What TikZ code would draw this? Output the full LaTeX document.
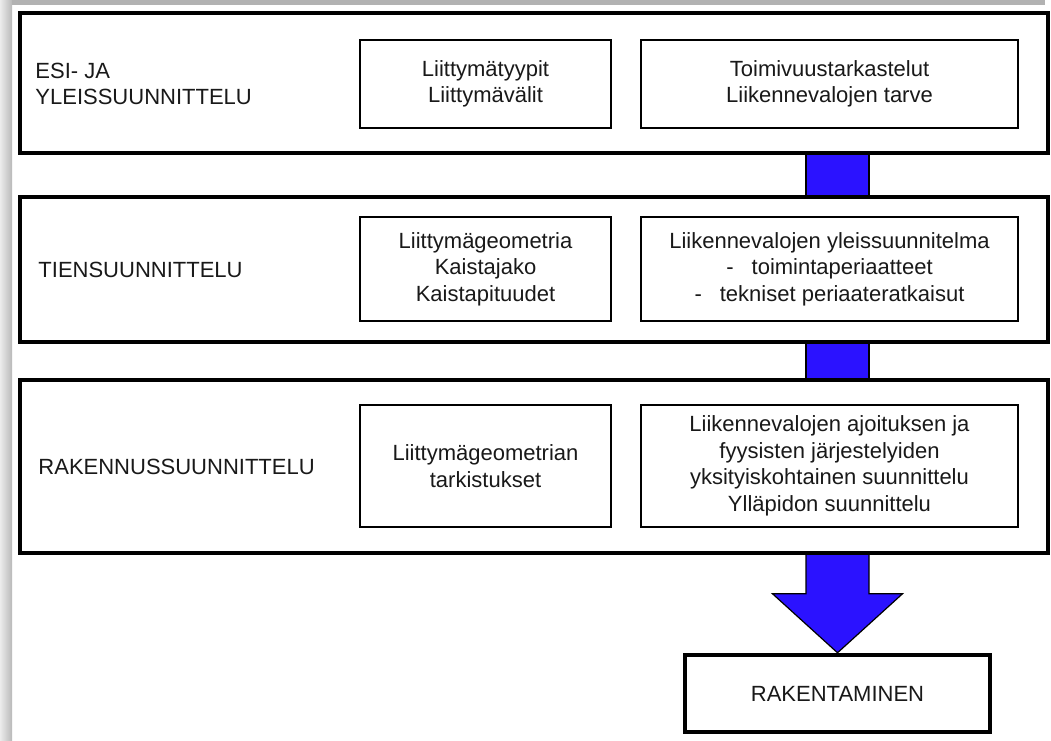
\documentclass[tikz,border=0pt]{standalone}
\usepackage{fontspec}
\setmainfont{Liberation Sans}
\usetikzlibrary{calc,backgrounds}
\definecolor{arrblue}{RGB}{43,18,255}
\definecolor{txtgray}{RGB}{25,25,25}
\newcommand\txtfont{\fontsize{22}{26.5}\selectfont}
\begin{document}
\begin{tikzpicture}[x=1pt,y=-1pt,
  band/.style={draw=black, line width=3.5pt, fill=white, inner sep=0pt, minimum width=1028pt},
  inbox/.style={draw=black, line width=2pt, fill=white, align=center, inner sep=0pt, font=\txtfont, text=txtgray},
  lbl/.style={anchor=west, align=left, font=\txtfont, inner sep=0pt, text=txtgray},
  conn/.style={fill=arrblue, draw=black, line width=1.2pt, line join=miter},
  finalbox/.style={draw=black, line width=4.5pt, fill=white, inner sep=0pt, font=\txtfont, text=txtgray}]
\useasboundingbox (0,0) rectangle (1051,740);
% frame shadow
\fill[gray!60] (0,0) rectangle (1045,4.5);
\shade[left color=gray!15, right color=gray!55] (0,0) rectangle (12,740);
% bands
\node[band, minimum height=140pt] (b1) at (534,83) {};
\node[band, minimum height=145pt] (b2) at (534,269.5) {};
\node[band, minimum height=173pt] (b3) at (534,466.5) {};
% band labels
\node[lbl] (l1) at ($(b1.west)+(17,1)$) {ESI- JA\\YLEISSUUNNITTELU};
\node[lbl] (l2) at ($(b2.west)+(20,0)$) {TIENSUUNNITTELU};
\node[lbl] (l3) at ($(b3.west)+(20,0)$) {RAKENNUSSUUNNITTELU};
% inner boxes
\node[inbox, minimum width=251pt, minimum height=88pt] (a1) at (485.5,84) {Liittymätyypit\\Liittymävälit};
\node[inbox, minimum width=377pt, minimum height=88pt] (c1) at (829.5,84) {Toimivuustarkastelut\\Liikennevalojen tarve};
\node[inbox, minimum width=251pt, minimum height=104pt] (a2) at (485.5,269) {Liittymägeometria\\Kaistajako\\Kaistapituudet};
\node[inbox, minimum width=377pt, minimum height=104pt] (c2) at (829.5,269) {Liikennevalojen yleissuunnitelma\\-\hspace{18pt}toimintaperiaatteet\\-\hspace{18pt}tekniset periaateratkaisut};
\node[inbox, minimum width=251pt, minimum height=122pt] (a3) at (485.5,466) {Liittymägeometrian\\tarkistukset};
\node[inbox, minimum width=377pt, minimum height=122pt] (c3) at (829.5,466) {Liikennevalojen ajoituksen ja\\fyysisten järjestelyiden\\yksityiskohtainen suunnittelu\\Ylläpidon suunnittelu};
% final box
\node[finalbox, minimum width=305pt, minimum height=77pt] (rak) at (837.5,693.5) {RAKENTAMINEN};
% connectors and arrow behind bands
\begin{scope}[on background layer]
\draw[conn] ($(b1.south -| rak.north)+(-31.5,0)$) rectangle ($(b2.north -| rak.north)+(31.5,0)$);
\draw[conn] ($(b2.south -| rak.north)+(-31.5,0)$) rectangle ($(b3.north -| rak.north)+(31.5,0)$);
\draw[conn] ($(b3.south -| rak.north)+(-31.5,-3)$) -- ($(b3.south -| rak.north)+(-31.5,39)$)
  -- ($(b3.south -| rak.north)+(-65,39)$) -- (rak.north)
  -- ($(b3.south -| rak.north)+(65,39)$) -- ($(b3.south -| rak.north)+(31.5,39)$)
  -- ($(b3.south -| rak.north)+(31.5,-3)$) -- cycle;
\end{scope}
\end{tikzpicture}
\end{document}
